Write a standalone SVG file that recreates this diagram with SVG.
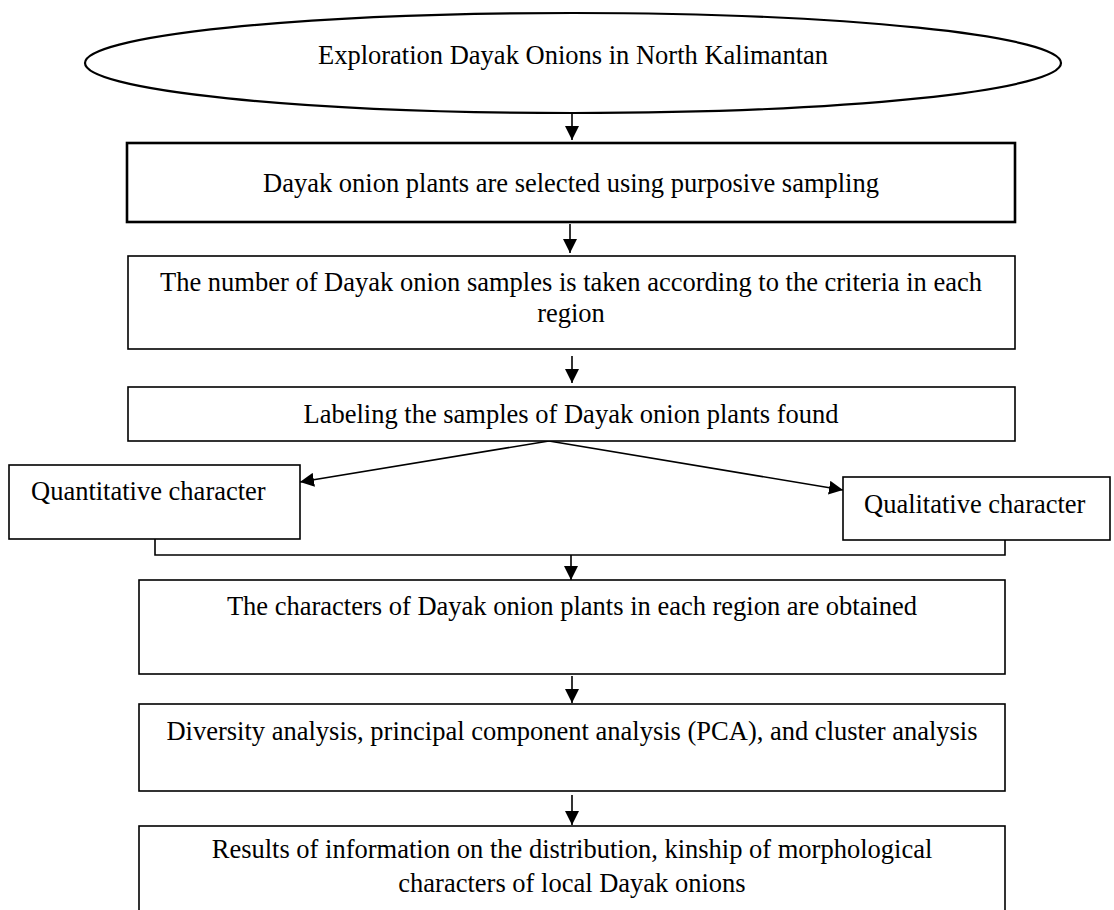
<svg xmlns="http://www.w3.org/2000/svg" width="1114" height="910" viewBox="0 0 1114 910">
<style>
text{font-family:"Liberation Serif","Times New Roman",serif;font-size:26.5px;fill:#000}
.c{text-anchor:middle}
.box{fill:#fff;stroke:#000;stroke-width:1.6}
.thick{stroke-width:2.6}
.ln{fill:none;stroke:#000;stroke-width:1.6}
</style>
<defs>
<marker id="ah" markerWidth="14" markerHeight="14" viewBox="0 0 14 14" refX="14" refY="7" orient="auto" markerUnits="userSpaceOnUse">
<path d="M0,0 L14,7 L0,14 Z" fill="#000"/>
</marker>
</defs>
<rect width="1114" height="910" fill="#fff"/>
<g id="connectors">
<line class="ln" x1="572" y1="113" x2="572" y2="140" marker-end="url(#ah)"/>
<line class="ln" x1="570" y1="224" x2="570" y2="253" marker-end="url(#ah)"/>
<line class="ln" x1="572" y1="356" x2="572" y2="383" marker-end="url(#ah)"/>
<line class="ln" x1="549" y1="441" x2="300" y2="482" marker-end="url(#ah)"/>
<line class="ln" x1="549" y1="441" x2="843" y2="490" marker-end="url(#ah)"/>
<polyline class="ln" points="155,539 155,555 1005,555 1005,540"/>
<line class="ln" x1="571" y1="555" x2="571" y2="580" marker-end="url(#ah)"/>
<line class="ln" x1="572" y1="676" x2="572" y2="703" marker-end="url(#ah)"/>
<line class="ln" x1="572" y1="795" x2="572" y2="825" marker-end="url(#ah)"/>
</g>
<g id="n1">
<ellipse cx="573" cy="63" rx="488" ry="50" fill="#fff" stroke="#000" stroke-width="2.2"/>
<text class="c" x="573" y="64">Exploration Dayak Onions in North Kalimantan</text>
</g>
<g id="n2">
<rect class="box thick" x="127" y="143" width="888" height="79"/>
<text class="c" x="571" y="192">Dayak onion plants are selected using purposive sampling</text>
</g>
<g id="n3">
<rect class="box" x="128" y="256" width="887" height="93"/>
<text class="c" x="571" y="291">The number of Dayak onion samples is taken according to the criteria in each</text>
<text class="c" x="571" y="322">region</text>
</g>
<g id="n4">
<rect class="box" x="128" y="387" width="887" height="54"/>
<text class="c" x="571" y="423">Labeling the samples of Dayak onion plants found</text>
</g>
<g id="n5">
<rect class="box" x="9" y="465" width="291" height="74"/>
<text x="31" y="500">Quantitative character</text>
</g>
<g id="n6">
<rect class="box" x="843" y="477" width="267" height="63"/>
<text x="864" y="513">Qualitative character</text>
</g>
<g id="n7">
<rect class="box" x="139" y="580" width="866" height="94"/>
<text class="c" x="572" y="615">The characters of Dayak onion plants in each region are obtained</text>
</g>
<g id="n8">
<rect class="box" x="139" y="704" width="866" height="87"/>
<text class="c" x="572" y="740">Diversity analysis, principal component analysis (PCA), and cluster analysis</text>
</g>
<g id="n9">
<rect class="box" x="139" y="826" width="866" height="100"/>
<text class="c" x="572" y="858">Results of information on the distribution, kinship of morphological</text>
<text class="c" x="572" y="892">characters of local Dayak onions</text>
</g>
</svg>
